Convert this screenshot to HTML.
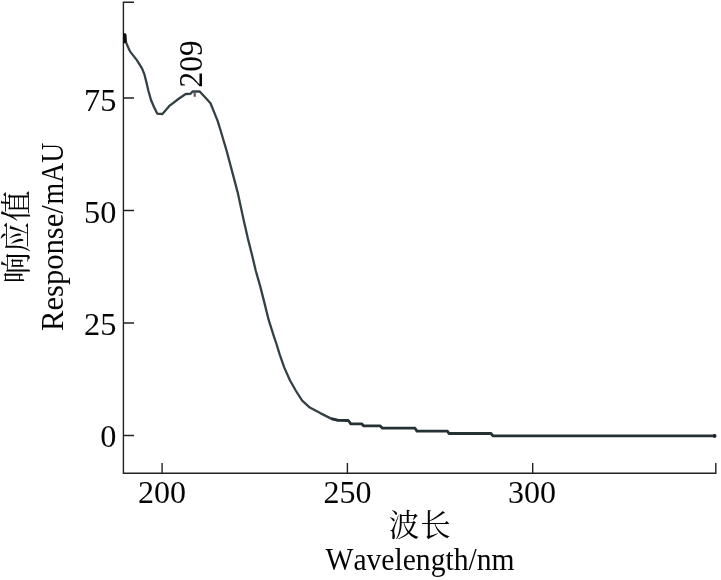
<!DOCTYPE html>
<html><head><meta charset="utf-8">
<style>
html,body{margin:0;padding:0;background:#fff;}
body{width:721px;height:580px;overflow:hidden;position:relative;}
svg{position:absolute;left:0;top:0;}
text{font-family:"Liberation Serif","Noto Serif CJK SC",serif;fill:#050505;}
.cjk{font-family:"Liberation Serif","Noto Serif CJK SC",serif;}
</style></head><body>
<svg width="721" height="580" viewBox="0 0 721 580">
<rect width="721" height="580" fill="#fff"/>
<g stroke="#222" stroke-width="1.4" fill="none">
<path d="M134 2.3H123.4V473.2H715.8V463"/>
<path d="M123.4 98H134M123.4 210.5H134M123.4 323H134M123.4 435.5H134"/>
<path d="M162.1 473.2V463M347.4 473.2V463M532.7 473.2V463"/>
</g>
<path id="curve" fill="none" stroke="#354045" stroke-width="2.3" stroke-linejoin="round" d="M124.3 34.5 L126.2 42.6 L127.9 46.7 L130 51.4 L136.7 59.9 L142 68.3 L144.5 74.7 L145.9 80.3 L148.4 90.7 L151 100 L154.1 107.2 L157.2 113.6 L162.4 114 L169.1 106.2 L178.4 99 L185.7 94 L190.5 93.8 L192.6 91.5 L199.7 91.4 L205.3 97.6 L210.5 103.3 L214.1 112.1 L217.8 121.4 L220.6 130.5 L223.4 140 L226.6 150.7 L232.1 171.4 L237.6 192.1 L243.8 220.7 L247.9 238.6 L252.1 255.2 L255.7 270.5 L260.3 286.6 L264.5 303.1 L268.6 319.7 L273.4 334.8 L276.8 345 L279.5 353.8 L284.3 367.6 L289.8 380 L296 391 L302.2 400.7 L309.8 407.6 L320.2 413.1 L331.2 418.6 L338.3 420.3"/>
<path id="curve2" fill="none" stroke="#263136" stroke-width="2.8" stroke-linejoin="round" d="M331.2 418.6 L338.3 420.3 L348.3 420.5 L350.8 423.8 L361.7 423.8 L363.5 425.8 L380 425.8 L382.5 428.2 L415 428.2 L417 431.2 L447.5 431.2 L449 433.5 L491 433.5 L493 435.9 L715.8 435.9"/>
<path d="M123 33.3H125.6L126.6 35V42L125.4 43.3H123Z" fill="#0c0e0f"/>
<path d="M194.7 91.5V96.8" stroke="#63576a" stroke-width="2.2" fill="none"/>
<circle cx="714.6" cy="435.9" r="1.9" fill="#1a2226"/>
<g font-size="32.3">
<text x="116.3" y="111.0" text-anchor="end">75</text>
<text x="116.3" y="222.8" text-anchor="end">50</text>
<text x="116.3" y="334.9" text-anchor="end">25</text>
<text x="116.3" y="447.0" text-anchor="end">0</text>
<text x="162" y="503" text-anchor="middle" font-size="32">200</text>
<text x="347.4" y="503" text-anchor="middle" font-size="32">250</text>
<text x="532" y="503" text-anchor="middle" font-size="32">300</text>
<text x="420.2" y="535.8" text-anchor="middle" class="cjk" font-size="30.5" letter-spacing="1">波长</text>
<text x="325.5" y="569.5" font-size="32" textLength="189" lengthAdjust="spacingAndGlyphs" style="font-kerning:none">Wavelength/nm</text>
<text transform="translate(201.6,87.4) rotate(-90) scale(0.955,1)" font-size="32.8">209</text>
<text transform="translate(27,236.9) rotate(-90) scale(1.035,1.04)" text-anchor="middle" class="cjk" font-size="30">响应值</text>
<text transform="translate(63.3,331) rotate(-90)" font-size="32" style="font-kerning:none"><tspan x="0" textLength="125.8" lengthAdjust="spacingAndGlyphs">Response/</tspan><tspan x="126.6" textLength="61.6" lengthAdjust="spacingAndGlyphs">mAU</tspan></text>
</g>
</svg>
</body></html>
